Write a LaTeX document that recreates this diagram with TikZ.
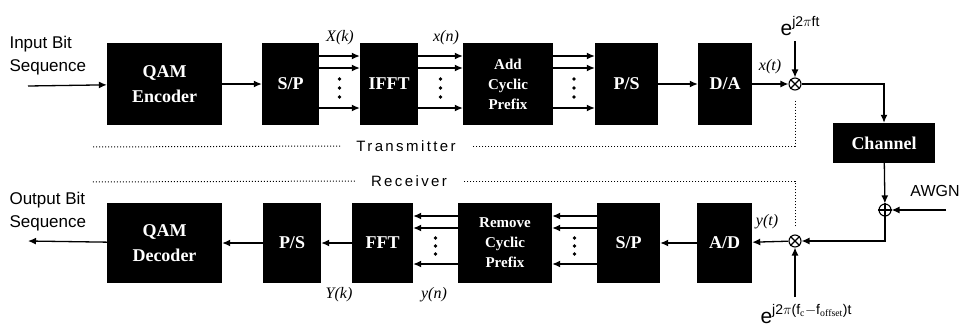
\documentclass[tikz,border=0pt]{standalone}
\usepackage{fontspec}
\setmainfont{Liberation Serif}
\setsansfont{Liberation Sans}
\usetikzlibrary{arrows.meta,calc}

\begin{document}
\begin{tikzpicture}[x=1pt, y=-1pt,
    box/.style={rectangle, fill=black, text=white, inner sep=0pt, align=center, font=\bfseries\fontsize{18}{25}\selectfont},
    smallbox/.style={box, font=\bfseries\fontsize{15}{20}\selectfont},
    arrow/.style={-{Latex[length=8pt,width=7pt]}, line width=1.3pt},
    mixer/.style={circle, draw, line width=1.1pt, minimum size=12pt, inner sep=0pt},
    sep/.style={line width=1pt, dash pattern=on 1pt off 2pt},
    lbl/.style={font=\sffamily\fontsize{17}{23}\selectfont, align=left},
    sep label/.style={font=\sffamily\fontsize{15}{16}\selectfont\addfontfeature{LetterSpace=16}, inner xsep=16pt},
    sig/.style={font=\itshape\fontsize{16}{17}\selectfont}
]
\useasboundingbox (0,0) rectangle (979,332);

% Transmitter
\node[lbl, anchor=west] (inlabel) at (6,56) {Input Bit\\Sequence};
\coordinate (bitin) at (28,86);
\node[box, minimum width=115pt, minimum height=82pt] (qamenc) at (164.5,84) {QAM\\Encoder};
\node[box, minimum width=57pt, minimum height=82pt] (sp1) at (290.5,84) {S/P};
\node[box, minimum width=58pt, minimum height=82pt] (ifft) at (389,84) {IFFT};
\node[smallbox, minimum width=90pt, minimum height=82pt] (addcp) at (508,84) {Add\\Cyclic\\Prefix};
\node[box, minimum width=63pt, minimum height=82pt] (ps1) at (626.5,84) {P/S};
\node[box, minimum width=54pt, minimum height=82pt] (da) at (725,84) {D/A};
\node[mixer] (mixtx) at (795,84) {};
\node[font=\sffamily\fontsize{21}{22}\selectfont] (txcar) at (800,26) {e\raisebox{9pt}{\fontsize{14}{15}\selectfont j2$\pi$ft}};
\coordinate (txcarin) at (795,41);

% Channel
\node[box, minimum width=102pt, minimum height=40pt] (channel) at (884,143) {Channel};
\node[mixer] (awgnadd) at (885,210) {};
\node[font=\sffamily\fontsize{16}{17}\selectfont] (awgn) at (935,191) {AWGN};
\coordinate (awgnin) at (946,210);

% Receiver
\node[lbl, anchor=west] (outlabel) at (6,212) {Output Bit\\Sequence};
\coordinate (bitout) at (28,241);
\node[box, minimum width=115pt, minimum height=80pt] (qamdec) at (164.5,243) {QAM\\Decoder};
\node[box, minimum width=58pt, minimum height=80pt] (ps2) at (292,243) {P/S};
\node[box, minimum width=61pt, minimum height=80pt] (fft) at (382.5,243) {FFT};
\node[smallbox, minimum width=94pt, minimum height=80pt] (remcp) at (505,243) {Remove\\Cyclic\\Prefix};
\node[box, minimum width=63pt, minimum height=80pt] (sp2) at (628.5,243) {S/P};
\node[box, minimum width=55pt, minimum height=80pt] (ad) at (724.5,243) {A/D};
\node[mixer] (mixrx) at (795,241) {};
\node[font=\sffamily\fontsize{21}{22}\selectfont] (rxcar) at (806,314) {e\raisebox{9pt}{\fontsize{14}{15}\selectfont j2$\pi$(f$_\mathrm{c}$$-$f$_\mathrm{offset}$)t}};
\coordinate (rxcarin) at (795,297);

% Separator
\node[sep label] (txlabel) at (406,146) {Transmitter};
\node[sep label] (rxlabel) at (409,181) {Receiver};
\coordinate (txleft) at (92,147);
\coordinate (rxleft) at (92,182);

% Signal labels
\node[sig] (xk) at (340,38) {X(k)};
\node[sig] (xn) at (446,38) {x(n)};
\node[sig] (xt) at (770,67) {x(t)};
\node[sig] (yt) at (767,222) {y(t)};
\node[sig] (yk) at (339,295) {Y(k)};
\node[sig] (yn) at (434,295) {y(n)};

% Mixer signs
\draw[line width=1.1pt] (mixtx.45) -- (mixtx.225) (mixtx.135) -- (mixtx.315);
\draw[line width=1.1pt] (mixrx.45) -- (mixrx.225) (mixrx.135) -- (mixrx.315);
\draw[line width=1.1pt] (awgnadd.north) -- (awgnadd.south) (awgnadd.west) -- (awgnadd.east);

% Connections
\draw[arrow] (bitin) -- (qamenc);
\draw[arrow] (qamenc) -- (sp1);
\foreach \a/\b in {sp1/ifft, ifft/addcp, addcp/ps1} {
    \foreach \dy in {28,16,-24}
        \draw[arrow] ([yshift=\dy pt]\a.east) -- ([yshift=\dy pt]\b.west);
    \foreach \dy in {5,-4,-13}
        \fill ([yshift=\dy pt]$(\a.east)!0.5!(\b.west)$) circle (1.8pt);
}
\draw[arrow] (ps1) -- (da);
\draw[arrow] (da) -- (mixtx);
\draw[arrow] (txcarin) -- (mixtx);
\draw[arrow] (mixtx) -| (channel);
\draw[arrow] (channel) -- (awgnadd);
\draw[arrow] (awgnin) -- (awgnadd);
\draw[arrow] (awgnadd) |- (mixrx);
\draw[arrow] (rxcarin) -- (mixrx);
\draw[arrow] (mixrx) -- (ad);
\draw[arrow] (ad) -- (sp2);
\foreach \a/\b in {sp2/remcp, remcp/fft} {
    \foreach \dy in {27,15,-21}
        \draw[arrow] ([yshift=\dy pt]\a.west) -- ([yshift=\dy pt]\b.east);
    \foreach \dy in {5,-3,-11}
        \fill ([yshift=\dy pt]$(\a.west)!0.5!(\b.east)$) circle (1.8pt);
}
\draw[arrow] (fft) -- (ps2);
\draw[arrow] (ps2) -- (qamdec);
\draw[arrow] (qamdec) -- (bitout);

% Dotted boundary
\draw[sep] ([yshift=-10pt]mixtx.south) |- (txlabel.east);
\draw[sep] (txlabel.west) -- (txleft);
\draw[sep] ([yshift=8pt]mixrx.north) |- (rxlabel.east);
\draw[sep] (rxlabel.west) -- (rxleft);

\end{tikzpicture}
\end{document}
